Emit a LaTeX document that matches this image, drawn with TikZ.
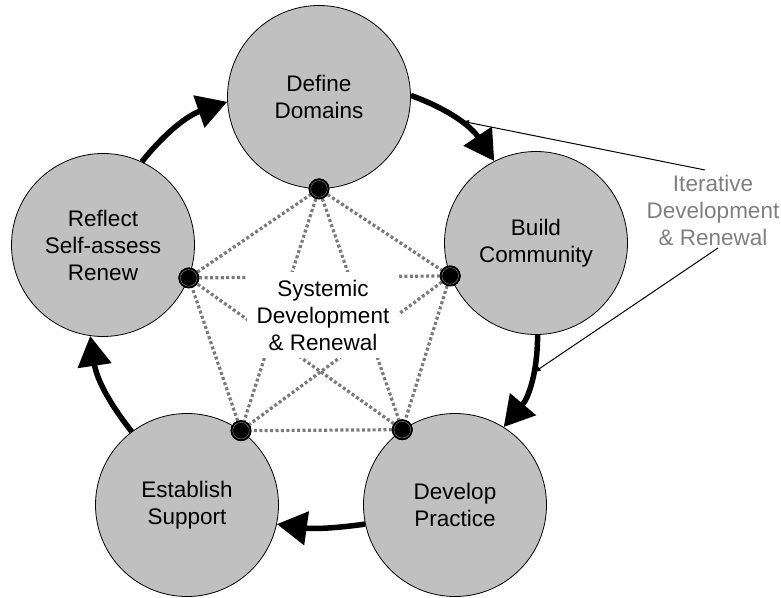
\documentclass[tikz,border=0pt]{standalone}
\usepackage{fontspec}
\setmainfont{Liberation Sans}
\usetikzlibrary{arrows.meta}
\definecolor{stagegray}{HTML}{C0C0C0}
\definecolor{linkgray}{HTML}{7A7A7A}
\definecolor{labelgray}{HTML}{7F7F7F}
\tikzset{
  stage/.style={circle, fill=stagegray, draw=black, line width=0.8pt,
    minimum size=183pt, inner sep=0pt, align=center,
    font=\fontsize{22.5pt}{27pt}\selectfont},
  hub/.style={circle, fill=black, draw=black, line width=0.8pt,
    minimum size=20pt, inner sep=0pt,
    path picture={\draw[gray, line width=0.5pt]
      (path picture bounding box.center) circle (8.3pt);}},
  link/.style={draw=linkgray, line width=3.2pt, dash pattern=on 3pt off 2.4pt},
  cycle/.style={draw=black, line width=5.5pt,
    -{Triangle[length=30pt, width=33pt]}},
  pointer/.style={draw=black, line width=1pt,
    -{Latex[length=8pt, width=5pt]}},
  caption/.style={align=center, font=\fontsize{22.5pt}{27pt}\selectfont}
}
\begin{document}
\begin{tikzpicture}[x=1pt, y=1pt]
  \useasboundingbox (0,0) rectangle (781,597);

  % the five stages
  \node[stage] (define)    at (319,500) {Define\\Domains};
  \node[stage] (build)     at (536,354) {Build\\Community};
  \node[stage] (develop)   at (455,92)  {Develop\\Practice};
  \node[stage] (establish) at (187,92)  {Establish\\Support};
  \node[stage] (reflect)   at (103,352) {Reflect\\Self-assess\\Renew};

  % iterative cycle
  \draw[cycle] (reflect.65)    to[bend left=16] (define.183);
  \draw[cycle] (define.1)      to[bend left=18] (build.117);
  \draw[cycle] (build.271)     to[bend left=20] (develop.58);
  \draw[cycle] (develop.192)   to[bend left=8]  (establish.348);
  \draw[cycle] (establish.127) to[bend left=15] (reflect.262);

  % hubs on the inner side of each stage
  \node[hub] (hA) at (define.270) {};
  \node[hub] (hB) at (build.201) {};
  \node[hub] (hC) at (develop.125) {};
  \node[hub] (hD) at (establish.54) {};
  \node[hub] (hE) at (reflect.339) {};

  % systemic links between every pair of stages
  \draw[link] (hA) -- (hB);
  \draw[link] (hB) -- (hC);
  \draw[link] (hC) -- (hD);
  \draw[link] (hD) -- (hE);
  \draw[link] (hE) -- (hA);
  \draw[link] (hA) -- (hC);
  \draw[link] (hA) -- (hD);
  \draw[link] (hB) -- (hD);
  \draw[link] (hB) -- (hE);
  \draw[link] (hC) -- (hE);

  % redraw hubs above the links
  \node[hub] at (hA) {};
  \node[hub] at (hB) {};
  \node[hub] at (hC) {};
  \node[hub] at (hD) {};
  \node[hub] at (hE) {};

  % central caption
  \node[caption, fill=white, inner xsep=10pt, inner ysep=8pt] (systemic)
    at (323,282) {Systemic\\Development\\\& Renewal};

  % side caption with its pointers
  \node[caption, text=labelgray] (iterative) at (713,387)
    {Iterative\\Development\\\& Renewal};
  \coordinate (p1s) at (705,427);
  \coordinate (p1e) at (461,476);
  \coordinate (p2s) at (718,349);
  \coordinate (p2e) at (533,224);
  \draw[pointer] (p1s) -- (p1e);
  \draw[pointer] (p2s) -- (p2e);
\end{tikzpicture}
\end{document}
